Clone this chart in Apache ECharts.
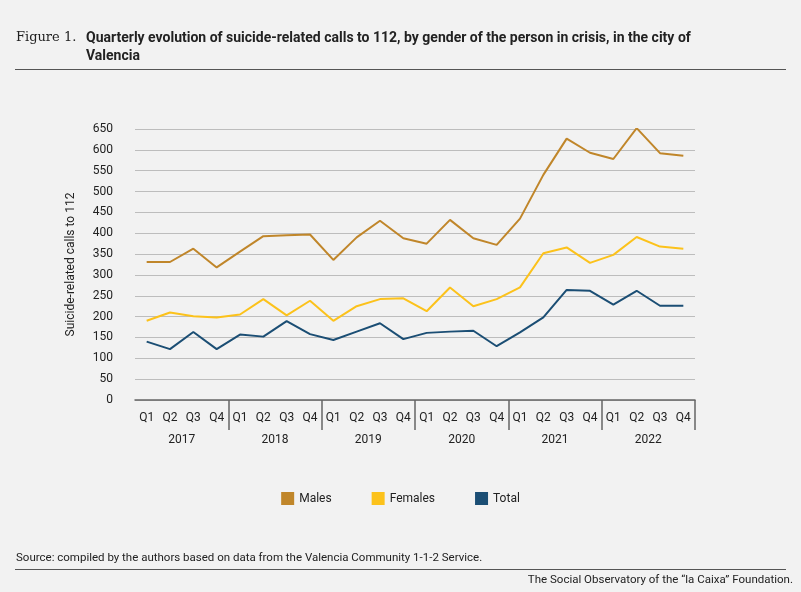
<!DOCTYPE html>
<html>
<head>
<meta charset="utf-8">
<script src="https://cdn.jsdelivr.net/npm/echarts@6/dist/echarts.min.js"></script>
<style>
html, body { margin: 0; padding: 0; background: #f2f2f2; }
#chart { width: 801px; height: 592px; }
</style>
</head>
<body>
<div id="chart"></div>
<script>
var quarters = ['Q1', 'Q2', 'Q3', 'Q4', 'Q1', 'Q2', 'Q3', 'Q4', 'Q1', 'Q2', 'Q3', 'Q4',
    'Q1', 'Q2', 'Q3', 'Q4', 'Q1', 'Q2', 'Q3', 'Q4', 'Q1', 'Q2', 'Q3', 'Q4'];
var years = ['2017', '2018', '2019', '2020', '2021', '2022'];
var males = [331, 331, 363, 318, 356, 393, 395, 397, 336, 390, 430, 388,
    375, 432, 388, 372, 435, 540, 627, 593, 578, 652, 592, 586];
var females = [190, 210, 201, 198, 205, 242, 203, 238, 190, 225, 242, 244,
    213, 270, 225, 242, 270, 352, 366, 329, 348, 391, 368, 363];
var total = [140, 122, 163, 122, 157, 152, 189, 158, 144, 164, 184, 146,
    161, 164, 166, 129, 162, 198, 264, 262, 229, 262, 226, 226];

var font = 'Roboto, "Liberation Sans", sans-serif';
var myChart = echarts.init(document.getElementById('chart'));

function line(name, color, data) {
    return {
        name: name,
        type: 'line',
        data: data,
        symbol: 'none',
        lineStyle: { width: 2, color: color },
        itemStyle: { color: color }
    };
}

var option = {
    backgroundColor: '#f2f2f2',
    textStyle: { fontFamily: font },
    graphic: [
        { type: 'text', left: 16, top: 31, style: { text: 'Figure 1.', font: '13px "DejaVu Serif", serif', fill: '#222' } },
        { type: 'text', left: 86, top: 29, style: { text: 'Quarterly evolution of suicide-related calls to 112, by gender of the person in crisis, in the city of\nValencia', font: 'bold 14px ' + font, fill: '#222', lineHeight: 18 } },
        { type: 'rect', shape: { x: 15, y: 69, width: 771, height: 1 }, style: { fill: '#555' } },
        { type: 'text', left: 16, top: 552, style: { text: 'Source: compiled by the authors based on data from the Valencia Community 1-1-2 Service.', font: '11.5px ' + font, fill: '#222' } },
        { type: 'rect', shape: { x: 15, y: 569, width: 771, height: 1 }, style: { fill: '#555' } },
        { type: 'text', right: 8, top: 574, style: { text: 'The Social Observatory of the \u201cla Caixa\u201d Foundation.', font: '11.5px ' + font, fill: '#222' } }
    ],
    legend: {
        data: ['Males', 'Females', 'Total'],
        top: 487,
        left: 'center',
        icon: 'rect',
        itemWidth: 13,
        itemHeight: 13,
        itemGap: 40,
        textStyle: { fontSize: 12, color: '#222', fontFamily: font }
    },
    grid: { left: 135, right: 106, top: 129, bottom: 192 },
    xAxis: [{
        type: 'category',
        data: quarters,
        position: 'bottom',
        axisLine: { show: false },
        axisTick: { show: false },
        axisLabel: { color: '#222', fontSize: 12, margin: 12 }
    }, {
        type: 'category',
        data: years,
        position: 'bottom',
        axisLine: { show: true, lineStyle: { color: '#666', width: 1.5 } },
        axisTick: {
            show: true, length: 30, lineStyle: { color: '#666', width: 1.5 },
            interval: function (i) { return i > 0 && i < years.length; }
        },
        axisLabel: { color: '#222', fontSize: 12, margin: 34, interval: 0 }
    }],
    yAxis: {
        type: 'value',
        min: 0,
        max: 650,
        interval: 50,
        name: 'Suicide-related calls to 112',
        nameLocation: 'middle',
        nameGap: 58,
        nameTextStyle: { color: '#222', fontSize: 12 },
        axisLine: { show: false },
        axisTick: { show: false },
        axisLabel: { color: '#222', fontSize: 12, margin: 22 },
        splitLine: { lineStyle: { color: '#bdbdbd', width: 1 } }
    },
    series: [
        line('Males', '#c0862a', males),
        line('Females', '#fcc21b', females),
        line('Total', '#1b4e74', total)
    ]
};
myChart.setOption(option);
</script>
</body>
</html>
